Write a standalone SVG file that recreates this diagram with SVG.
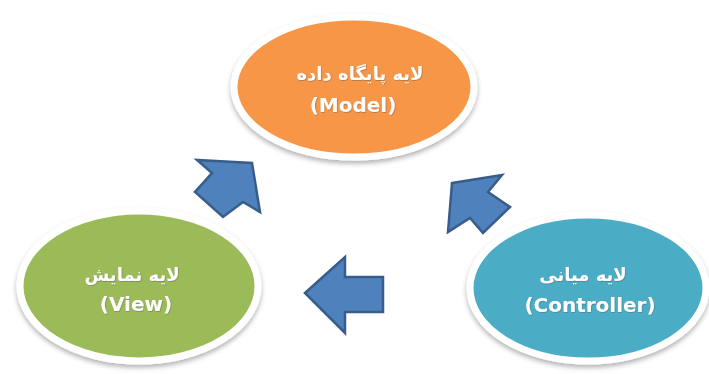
<svg xmlns="http://www.w3.org/2000/svg" width="709" height="374" viewBox="0 0 709 374">
<defs>
<filter id="sh" x="-10%" y="-10%" width="120%" height="130%">
<feDropShadow dx="0" dy="3" stdDeviation="2.5" flood-color="#000" flood-opacity="0.3"/>
</filter>
<filter id="tsh" x="-10%" y="-20%" width="120%" height="140%">
<feDropShadow dx="0.6" dy="0.8" stdDeviation="0.6" flood-color="#555" flood-opacity="0.5"/>
</filter>
</defs>
<style>
.node ellipse { stroke: #ffffff; stroke-width: 7; filter: url(#sh); }
.t { font-family: "DejaVu Sans", sans-serif; font-weight: bold; fill: #ffffff; text-anchor: middle; filter: url(#tsh); }
.fa { font-size: 18px; }
.en { font-size: 20px; }
.arrow { fill: #4F81BD; stroke: #385D8A; stroke-width: 2.5; stroke-linejoin: miter; }
</style>
<rect width="709" height="374" fill="#ffffff"/>
<g id="model" class="node">
<ellipse cx="354" cy="87" rx="120" ry="70" fill="#F79646"/>
<text class="t fa" x="360" y="80" direction="rtl">لایه پایگاه داده</text>
<text class="t en" x="353" y="112">(Model)</text>
</g>
<g id="view" class="node">
<ellipse cx="139" cy="286" rx="119" ry="75" fill="#9BBB59"/>
<text class="t fa" x="132" y="281" direction="rtl">لایه نمایش</text>
<text class="t en" x="136" y="311">(View)</text>
</g>
<g id="controller" class="node">
<ellipse cx="588" cy="288" rx="118" ry="73" fill="#4BACC6"/>
<text class="t fa" x="583" y="281" direction="rtl">لایه میانی</text>
<text class="t en" x="590" y="312">(Controller)</text>
</g>
<g id="connectors">
<polygon class="arrow" points="252,163 260,212 243,202 223,217 195,192 212,173 197,160"/>
<polygon class="arrow" points="305,293 345,257 345,277 383,277 383,312 345,312 345,333"/>
<polygon class="arrow" points="452,183 502,175 488,192 510,207 483,233 470,218 448,232"/>
</g>
</svg>
